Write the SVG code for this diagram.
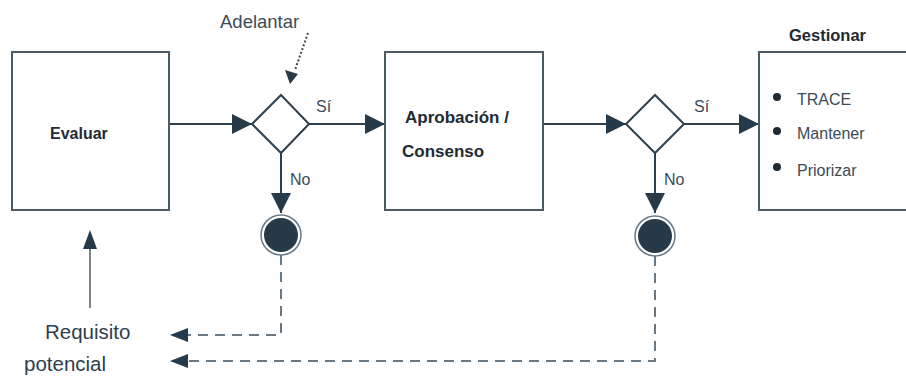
<svg xmlns="http://www.w3.org/2000/svg" width="906" height="376" viewBox="0 0 906 376">
<style>
.box{fill:#fff;stroke:#4d5b65;stroke-width:2}
.dia{fill:#fff;stroke:#2f3f4b;stroke-width:2}
.ln{fill:none;stroke:#2f3f4b;stroke-width:2}
.up{fill:none;stroke:#4d5b65;stroke-width:1.5}
.dash{fill:none;stroke:#6a7883;stroke-width:2;stroke-dasharray:10,7}
.dot{fill:none;stroke:#3a4a56;stroke-width:2;stroke-dasharray:2,2}
.b{font-family:"Liberation Sans",Arial,sans-serif;font-size:16px;font-weight:bold;fill:#1f2a33}
.t{font-family:"Liberation Sans",Arial,sans-serif;font-size:16px;fill:#3b4b57}
.s{font-family:"Liberation Sans",Arial,sans-serif;font-size:16px;fill:#3b4b57}
.l{font-family:"Liberation Sans",Arial,sans-serif;font-size:20.5px;fill:#2f3f4b}
</style>
<defs>
<marker id="ah" viewBox="0 0 10 10" refX="10" refY="5" markerWidth="20" markerHeight="20" markerUnits="userSpaceOnUse" orient="auto">
<path d="M0,0 L10,5 L0,10 Z" fill="#263a4a"/>
</marker>
</defs>
<g id="connectors">
<line class="ln" x1="169" y1="124" x2="252" y2="124" marker-end="url(#ah)"/>
<line class="ln" x1="309" y1="124" x2="385" y2="124" marker-end="url(#ah)"/>
<line class="ln" x1="543" y1="124" x2="626" y2="124" marker-end="url(#ah)"/>
<line class="ln" x1="684" y1="124" x2="759" y2="124" marker-end="url(#ah)"/>
<line class="ln" x1="281" y1="153" x2="281" y2="213" marker-end="url(#ah)"/>
<line class="ln" x1="655" y1="153" x2="655" y2="213" marker-end="url(#ah)"/>
<line class="dot" x1="308" y1="33" x2="295" y2="70"/>
<path d="M285,70 L298,74 L290,84 Z" fill="#263a4a"/>
<line class="up" x1="90" y1="308" x2="90" y2="248"/>
<path d="M83,249 L90,230 L97,249 Z" fill="#263a4a"/>
<path class="dash" d="M281,255 V335 H186"/>
<path d="M188,328 L170,335 L188,342 Z" fill="#263a4a"/>
<path class="dash" d="M655,256 V361 H186"/>
<path d="M188,354 L170,361 L188,368 Z" fill="#263a4a"/>
<text class="s" x="316" y="112">Sí</text>
<text class="s" x="290" y="185">No</text>
<text class="s" x="694" y="112">Sí</text>
<text class="s" x="664" y="185">No</text>
<text class="s" x="220" y="28" style="font-size:18.5px">Adelantar</text>
</g>
<g id="evaluar">
<rect class="box" x="12" y="52" width="157" height="158"/>
<text class="b" x="50" y="139">Evaluar</text>
</g>
<g id="decision1">
<path class="dia" d="M281,95 L309,124 L281,153 L252,124 Z"/>
</g>
<g id="aprobacion">
<rect class="box" x="385" y="52" width="158" height="158"/>
<text class="b" x="405" y="123" style="font-size:17px">Aprobación /</text>
<text class="b" x="402" y="157" style="font-size:17px">Consenso</text>
</g>
<g id="decision2">
<path class="dia" d="M655,95 L684,124 L655,153 L626,124 Z"/>
</g>
<g id="gestionar">
<rect class="box" x="759" y="52" width="160" height="158"/>
<text class="b" x="789" y="41" style="font-size:16.5px">Gestionar</text>
<circle cx="777" cy="97" r="4" fill="#1f2a33"/>
<circle cx="777" cy="131" r="4" fill="#1f2a33"/>
<circle cx="777" cy="167" r="4" fill="#1f2a33"/>
<text class="t" x="797" y="105">TRACE</text>
<text class="s" x="797" y="139">Mantener</text>
<text class="s" x="797" y="176">Priorizar</text>
</g>
<g id="end1">
<circle cx="281" cy="235" r="20" fill="#fff" stroke="#6a7883" stroke-width="1.5"/>
<circle cx="281" cy="235" r="17" fill="#263a4a"/>
</g>
<g id="end2">
<circle cx="655" cy="236" r="20" fill="#fff" stroke="#6a7883" stroke-width="1.5"/>
<circle cx="655" cy="236" r="17" fill="#263a4a"/>
</g>
<g id="requisito">
<text class="l" x="45" y="339">Requisito</text>
<text class="l" x="24" y="371">potencial</text>
</g>
</svg>
